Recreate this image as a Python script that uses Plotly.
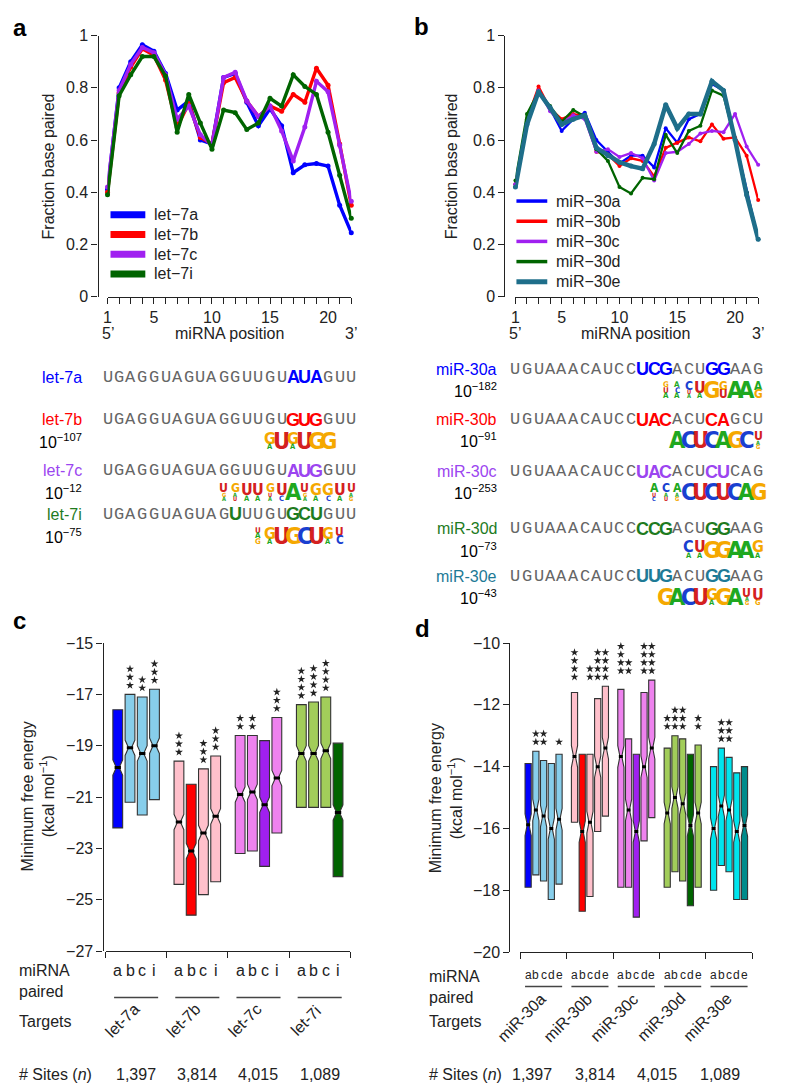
import plotly.graph_objects as go

W, H = 788, 1085
def px(x): return x / W
def py(y): return 1 - y / H

FONT = "Liberation Sans, Arial, sans-serif"
MONO = "Liberation Mono, Courier New, monospace"
LOGO_FONT = "Liberation Sans Narrow, DejaVu Sans Condensed, Arial Narrow, sans-serif"
INK = "#222222"

# ---------------- data: panel a ----------------
positions = list(range(1, 23))
pos_labels = [1, 5, 10, 15, 20]

let7_names = ["let−7a", "let−7b", "let−7c", "let−7i"]
let7a = [0.41, 0.80, 0.90, 0.965, 0.94, 0.855, 0.715, 0.75, 0.60, 0.585, 0.84, 0.855, 0.745, 0.655, 0.72, 0.655, 0.475, 0.505, 0.51, 0.50, 0.35, 0.245]
let7b = [0.40, 0.78, 0.88, 0.95, 0.925, 0.83, 0.65, 0.74, 0.61, 0.585, 0.82, 0.84, 0.75, 0.69, 0.73, 0.71, 0.775, 0.745, 0.875, 0.81, 0.585, 0.35]
let7c = [0.42, 0.79, 0.89, 0.955, 0.935, 0.85, 0.68, 0.73, 0.62, 0.58, 0.84, 0.86, 0.75, 0.69, 0.73, 0.635, 0.52, 0.65, 0.825, 0.785, 0.58, 0.365]
let7i = [0.39, 0.77, 0.85, 0.92, 0.92, 0.845, 0.63, 0.775, 0.665, 0.565, 0.715, 0.705, 0.64, 0.665, 0.76, 0.73, 0.85, 0.805, 0.775, 0.63, 0.465, 0.30]
let7_colors = ["#0000FF", "#FF0000", "#A020F0", "#006400"]

# ---------------- data: panel b ----------------
mir30_names = ["miR−30a", "miR−30b", "miR−30c", "miR−30d", "miR−30e"]
mir30a = [0.43, 0.67, 0.79, 0.72, 0.635, 0.68, 0.705, 0.60, 0.555, 0.51, 0.54, 0.54, 0.495, 0.645, 0.59, 0.68, 0.70, 0.815, 0.79, 0.60, 0.40, 0.22]
mir30b = [0.43, 0.68, 0.805, 0.72, 0.68, 0.70, 0.69, 0.555, 0.545, 0.50, 0.53, 0.52, 0.46, 0.57, 0.59, 0.61, 0.595, 0.66, 0.605, 0.61, 0.54, 0.37]
mir30c = [0.43, 0.68, 0.79, 0.71, 0.665, 0.695, 0.68, 0.555, 0.565, 0.535, 0.55, 0.53, 0.445, 0.55, 0.555, 0.585, 0.625, 0.635, 0.63, 0.70, 0.575, 0.505]
mir30d = [0.445, 0.70, 0.785, 0.73, 0.67, 0.715, 0.69, 0.565, 0.52, 0.42, 0.395, 0.455, 0.45, 0.62, 0.55, 0.635, 0.655, 0.79, 0.77, 0.60, 0.40, 0.22]
mir30e = [0.42, 0.66, 0.785, 0.725, 0.66, 0.68, 0.695, 0.57, 0.54, 0.515, 0.50, 0.49, 0.585, 0.735, 0.645, 0.70, 0.70, 0.825, 0.79, 0.60, 0.39, 0.22]
mir30_colors = ["#0000FF", "#FF0000", "#A020F0", "#006400", "#1E6E8A"]

# ---------------- data: sequences ----------------
seq_a_labels = ["let-7a", "let-7b", "let-7c", "let-7i"]
seq_a = ["UGAGGUAGUAGGUUGUAUAGUU", "UGAGGUAGUAGGUUGUGUGGUU", "UGAGGUAGUAGGUUGUAUGGUU", "UGAGGUAGUAGUUUGUGCUGUU"]
hl_a = [[17, 18, 19], [17, 18, 19], [17, 18, 19], [12, 17, 18, 19]]
pexp_a = [None, "107", "12", "75"]
logo_start_a = [None, 15, 11, 14]
logo_cols_a = [None,
               ["Ga", "U", "Ga", "U", "G", "G"],
               ["Uga", "Gau", "Ua", "Ua", "Gua", "Uc", "A", "Uga", "Ga", "Gc", "Ua", "Uag"],
               ["uag", "Ga", "U", "G", "C", "U", "Ga", "uc"]]

seq_b_labels = ["miR-30a", "miR-30b", "miR-30c", "miR-30d", "miR-30e"]
seq_b = ["UGUAAACAUCCUCGACUGGAAG", "UGUAAACAUCCUACACUCAGCU", "UGUAAACAUCCUACACUCUCAG", "UGUAAACAUCCCCGACUGGAAG", "UGUAAACAUCCUUGACUGGAAG"]
hl_b = [[12, 13, 14, 18, 19]] * 5
pexp_b = ["182", "91", "253", "73", "43"]
logo_start_b = [14, 15, 13, 16, 14]
logo_cols_b = [["gua", "aca", "Cua", "Ua", "G", "GU", "A", "A", "AG", "C"],
               ["A", "C", "U", "C", "A", "G", "C", "Uag", "Uac"],
               ["Auc", "Cau", "Aag", "C", "U", "C", "U", "C", "A", "G", "C", "Ua"],
               ["Ca", "Ua", "G", "G", "A", "A", "Ga", "C"],
               ["G", "A", "C", "U", "Ga", "G", "A", "Uag", "Ug", "Uc"]]
nuc_colors = {"A": "#1FA81F", "C": "#1A3FD0", "G": "#F5A800", "U": "#D42020"}

# ---------------- data: panel c ----------------
c_targets = ["let-7a", "let-7b", "let-7c", "let-7i"]
c_paired = ["a", "b", "c", "i"]
c_q1 = [[-22.2, -21.2, -21.7, -21.1], [-24.4, -25.6, -24.8, -24.3], [-23.2, -23.1, -23.7, -22.4], [-21.4, -21.4, -21.4, -24.1]]
c_med = [[-19.85, -19.08, -19.3, -19.0], [-21.97, -23.1, -22.4, -21.75], [-20.9, -20.8, -21.3, -20.26], [-19.3, -19.3, -19.2, -21.6]]
c_q3 = [[-17.6, -17.0, -17.1, -16.8], [-19.6, -20.5, -19.9, -19.4], [-18.6, -18.6, -18.8, -17.9], [-17.4, -17.3, -17.1, -18.9]]
c_stars = [[0, 3, 2, 3], [3, 0, 3, 3], [2, 2, 0, 3], [4, 4, 4, 0]]
c_light = ["#87CEEB", "#FFC0CB", "#EE82EE", "#A2CD5A"]
c_dark = ["#0000FF", "#FF0000", "#A020F0", "#006400"]
c_yticks = [-15, -17, -19, -21, -23, -25, -27]

# ---------------- data: panel d ----------------
d_targets = ["miR-30a", "miR-30b", "miR-30c", "miR-30d", "miR-30e"]
d_paired = ["a", "b", "c", "d", "e"]
d_q1 = [[-17.9, -17.5, -17.7, -18.3, -17.8], [-15.8, -18.68, -18.2, -16.1, -15.6], [-17.9, -17.9, -18.87, -16.4, -15.65],
        [-17.9, -17.4, -17.7, -18.5, -17.9], [-18.0, -17.2, -17.4, -18.3, -18.3]]
d_med = [[-15.88, -15.4, -15.6, -16.0, -15.7], [-13.67, -16.1, -15.8, -14.0, -13.4], [-13.67, -15.4, -16.1, -14.0, -13.4],
         [-15.5, -15.0, -15.2, -15.9, -15.5], [-16.0, -15.27, -15.4, -16.1, -15.9]]
d_q3 = [[-13.9, -13.5, -13.8, -13.9, -13.6], [-11.6, -13.6, -13.6, -11.8, -11.4], [-11.5, -13.1, -13.6, -11.6, -11.2],
        [-13.4, -13.0, -13.1, -13.6, -13.3], [-14.0, -13.4, -13.7, -14.2, -14.0]]
d_stars = [[0, 2, 2, 0, 1], [4, 0, 2, 4, 4], [4, 2, 0, 4, 4], [2, 3, 3, 0, 2], [0, 3, 3, 0, 0]]
d_light = ["#87CEEB", "#FFC0CB", "#EE82EE", "#A2CD5A", "#00E5EE"]
d_dark = ["#0000FF", "#FF0000", "#A020F0", "#006400", "#008B8B"]
d_yticks = [-10, -12, -14, -16, -18, -20]

sites = ["1,397", "3,814", "4,015", "1,089"]

fig = go.Figure()

def ann(x, y, text, size=16, color=INK, xanchor="center", yanchor="middle", xref="paper", family=FONT,
        angle=0, xshift=0):
    fig.add_annotation(x=x, y=y, xref=xref, yref="paper", text=text, showarrow=False, textangle=angle,
                       font=dict(size=size, color=color, family=family), xanchor=xanchor, yanchor=yanchor,
                       xshift=xshift)

def legend_keys(names, colors, widths, x0, x1, y_first, step, size=16):
    for k, (nm, col, w) in enumerate(zip(names, colors, widths)):
        y = y_first + k * step
        fig.add_shape(type="line", xref="paper", yref="paper", x0=px(x0), x1=px(x1), y0=py(y), y1=py(y),
                      line=dict(color=col, width=w))
        ann(px(x1 + 7), py(y), nm, size=size, xanchor="left")

# ---------------- line panels ----------------
for name, vals, col in zip(let7_names, [let7a, let7b, let7c, let7i], let7_colors):
    fig.add_trace(go.Scatter(x=positions, y=vals, mode="lines+markers", line=dict(color=col, width=3.4),
                             marker=dict(size=5, color=col), xaxis="x", yaxis="y", showlegend=False,
                             cliponaxis=False, hoverinfo="skip", name=name))

for i, (name, vals, col) in enumerate(zip(mir30_names, [mir30a, mir30b, mir30c, mir30d, mir30e], mir30_colors)):
    w = 4.5 if i == 4 else 2.3
    fig.add_trace(go.Scatter(x=positions, y=vals, mode="lines+markers", line=dict(color=col, width=w),
                             marker=dict(size=5 if i == 4 else 4, color=col), xaxis="x2", yaxis="y2",
                             showlegend=False, cliponaxis=False, hoverinfo="skip", name=name))

legend_keys(let7_names, let7_colors, [7] * 4, 99, 134, 202, 20)
legend_keys(mir30_names, mir30_colors, [3.5, 3.5, 3.5, 3.5, 5], 507, 538, 188, 20.5)

# ---------------- box panels ----------------
NOTCHW = 0.35

def add_boxes(q1s, meds, q3s, stars, light, dark, xa, ya, gstep, width, nspan, star_gap, star_step, group_align):
    for g in range(len(q1s)):
        n = len(q1s[g])
        top_max = max(q3s[g])
        for j in range(n):
            pos = g * gstep + 1 + j
            col = dark[g] if j == g else light[g]
            fig.add_trace(go.Box(x=[pos], q1=[q1s[g][j]], median=[meds[g][j]], q3=[q3s[g][j]],
                                 lowerfence=[q1s[g][j]], upperfence=[q3s[g][j]], notchspan=[nspan],
                                 notched=True, notchwidth=NOTCHW, width=width, whiskerwidth=0,
                                 fillcolor=col, line=dict(color="#333333", width=1.1), boxpoints=False,
                                 xaxis=xa, yaxis=ya, showlegend=False, hoverinfo="skip"))
            hw = width / 2 * (1 - NOTCHW)
            fig.add_trace(go.Scatter(x=[pos - hw, pos + hw], y=[meds[g][j]] * 2, mode="lines",
                                     line=dict(color="black", width=3), xaxis=xa, yaxis=ya,
                                     showlegend=False, hoverinfo="skip"))
            k = stars[g][j]
            if k:
                base = (top_max if group_align else q3s[g][j]) + star_gap
                fig.add_trace(go.Scatter(x=[pos] * k, y=[base + star_step * s for s in range(k)], mode="markers",
                                         marker=dict(symbol="star", size=6, color=INK), xaxis=xa, yaxis=ya,
                                         showlegend=False, cliponaxis=False, hoverinfo="skip"))

add_boxes(c_q1, c_med, c_q3, c_stars, c_light, c_dark, "x3", "y3", 5, 0.8, 0.3, 0.35, 0.32, False)
add_boxes(d_q1, d_med, d_q3, d_stars, d_light, d_dark, "x4", "y4", 6, 0.8, 0.35, 0.3, 0.265, True)

# ---------------- axes ----------------
ax_common = dict(showline=True, linecolor=INK, linewidth=1.3, ticks="outside", ticklen=6, tickwidth=1.3,
                 tickcolor=INK, showgrid=False, zeroline=False, tickfont=dict(size=16, color=INK, family=FONT))
pos_minor = dict(tickvals=positions, ticks="outside", ticklen=6, tickwidth=1.3, tickcolor=INK, showgrid=False)

fig.update_layout(
    width=W, height=H, margin=dict(l=0, r=0, t=0, b=0), paper_bgcolor="white", plot_bgcolor="white",
    font=dict(family=FONT, color=INK), boxmode="overlay", showlegend=False,
    xaxis=dict(domain=[px(96), px(341)], range=[1, 22], anchor="y", tickvals=pos_labels, minor=pos_minor, **ax_common),
    yaxis=dict(domain=[py(285), py(20)], range=[0, 1], anchor="free", position=px(86),
               tickvals=[0, 0.2, 0.4, 0.6, 0.8, 1], **ax_common),
    xaxis2=dict(domain=[px(506), px(750)], range=[1, 22], anchor="y2", tickvals=pos_labels, minor=pos_minor, **ax_common),
    yaxis2=dict(domain=[py(285), py(20)], range=[0, 1], anchor="free", position=px(495),
                tickvals=[0, 0.2, 0.4, 0.6, 0.8, 1], **ax_common),
    xaxis3=dict(domain=[px(94), px(340)], range=[0, 20], anchor="y3", tickvals=[0, 5, 10, 15, 20],
                showticklabels=False, **ax_common),
    yaxis3=dict(domain=[py(950), py(637)], range=[-27, -15], anchor="free", position=px(91),
                tickvals=c_yticks, **ax_common),
    xaxis4=dict(domain=[px(511), px(744)], range=[0, 30], anchor="y4", tickvals=[0, 6, 12, 18, 24, 30],
                showticklabels=False, **ax_common),
    yaxis4=dict(domain=[py(951), py(637)], range=[-20, -10], anchor="free", position=px(500),
                tickvals=d_yticks, **ax_common),
)

# panel letters
for lab, x, y in [("a", 8, 12), ("b", 412, 11), ("c", 8, 614), ("d", 413, 622)]:
    ann(px(x), py(y), f"<b>{lab}</b>", size=24, color="black")

# y titles
ann(px(37), py(153), "Fraction base paired", angle=-90)
ann(px(442), py(153), "Fraction base paired", angle=-90)
ann(px(26), py(793), "Minimum free energy<br>(kcal mol<sup>−1</sup>)", angle=-90)
ann(px(436), py(795), "Minimum free energy<br>(kcal mol<sup>−1</sup>)", angle=-90)

# x titles of line panels
for xr, mid in [("x", 11.5), ("x2", 11.4)]:
    ann(1, py(323), "5’", xref=xr)
    ann(22, py(323), "3’", xref=xr)
    ann(mid, py(323), "miRNA position", xref=xr)

# ---------------- sequences ----------------
def draw_logo(xref, start, cols, cy, total=17.0):
    top = cy - total / 2
    for i, col in enumerate(cols):
        weights = [3 if ch.isupper() else 1.4 for ch in col]
        s = sum(weights)
        y0 = top
        for ch, w in zip(col, weights):
            cap = total * w / s
            ann(start + i, py(y0 + cap / 2), f"<b>{ch.upper()}</b>", size=max(cap / 0.72, 5),
                color=nuc_colors[ch.upper()], xref=xref, family=LOGO_FONT)
            y0 += cap

def draw_rows(xref, labels, seqs, hls, pexps, starts, logos, colors, rows_y, label_x, pv_dy):
    for r, (lab, seq, hl, pe) in enumerate(zip(labels, seqs, hls, pexps)):
        y = rows_y[r]
        ann(px(label_x), py(y), lab, color=colors[r], xanchor="right")
        for i, ch in enumerate(seq):
            p = i + 1
            if p in hl:
                ann(p, py(y), f"<b>{ch}</b>", size=18, color=colors[r], xref=xref, family=FONT)
            else:
                ann(p, py(y), ch, size=17, color="#666666", xref=xref, family=MONO)
        if pe is not None:
            ann(px(label_x), py(y + pv_dy), f"10<sup>−{pe}</sup>", color="black", xanchor="right")
        if logos[r] is not None:
            draw_logo(xref, starts[r], logos[r], y + pv_dy)

seq_a_colors = ["#0000FF", "#FF0000", "#9B45F0", "#1E7B1E"]
seq_b_colors = ["#0000FF", "#FF0000", "#9B45F0", "#1E7B1E", "#1E7A96"]
draw_rows("x", seq_a_labels, seq_a, hl_a, pexp_a, logo_start_a, logo_cols_a, seq_a_colors,
          [367, 410, 462, 506], 72, 22)
draw_rows("x2", seq_b_labels, seq_b, hl_b, pexp_b, logo_start_b, logo_cols_b, seq_b_colors,
          [359, 410, 463, 521, 569], 489, 21)

# ---------------- box panel labels ----------------
def bottom_labels(xref, labels_x, paired, targets, gstep, pair_size, pair_y, line_y, line_span, tgt_y, tgt_shift,
                  rows_y, site_x):
    ann(px(labels_x), py(rows_y[0]), "miRNA", xanchor="left")
    ann(px(labels_x), py(rows_y[1]), "paired", xanchor="left")
    ann(px(labels_x), py(rows_y[2]), "Targets", xanchor="left")
    ann(px(labels_x), py(1075), "# Sites (<i>n</i>)", xanchor="left")
    for g, t in enumerate(targets):
        g0 = g * gstep
        for j, p in enumerate(paired):
            ann(g0 + 1 + j, py(pair_y), p, size=pair_size, xref=xref)
        fig.add_shape(type="line", xref=xref, yref="paper", x0=g0 + line_span[0], x1=g0 + line_span[1],
                      y0=py(line_y), y1=py(line_y), line=dict(color="#444444", width=1.5))
        ann(g0 + gstep / 2, py(tgt_y), t, size=16, xref=xref, angle=-45, xshift=tgt_shift)
    for k, s in enumerate(sites):
        ann(site_x(k), py(1075), s, xref=xref)

bottom_labels("x3", 5, c_paired, c_targets, 5, 16, 970, 997, (0.7, 4.3), 1020, -14, [970, 991, 1022],
              lambda k: k * 5 + 2.5)
bottom_labels("x4", 417, d_paired, d_targets, 6, 12, 974, 986, (0.6, 5.4), 1017, -22, [976, 997, 1022],
              lambda k: 1.5 + k * 8.1)

fig.write_html("out.html")
